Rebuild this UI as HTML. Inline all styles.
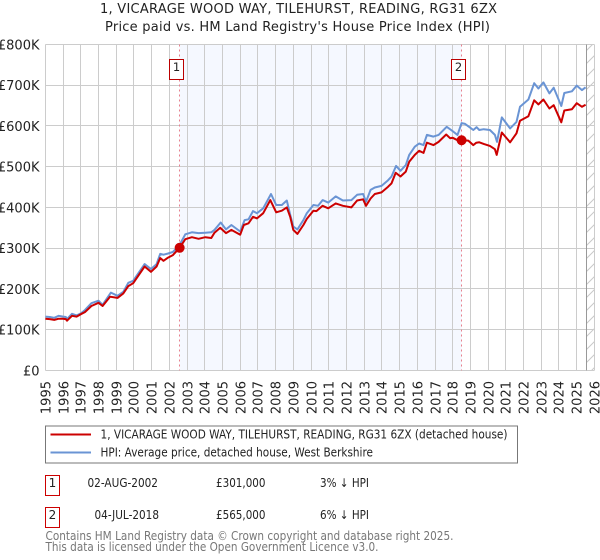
<!DOCTYPE html>
<html lang="en">
<head>
<meta charset="utf-8">
<title>1, VICARAGE WOOD WAY, TILEHURST, READING, RG31 6ZX</title>
<style>
html,body{margin:0;padding:0;background:#fff}
body{width:600px;height:560px;overflow:hidden;font-family:"DejaVu Sans","Liberation Sans",sans-serif}
svg{display:block}
text{font-family:"DejaVu Sans","Liberation Sans",sans-serif;fill:#222}
</style>
</head>
<body>
<svg id="chart" width="600" height="560" viewBox="0 0 600 560" xmlns="http://www.w3.org/2000/svg">
  <defs>
    <pattern id="hatch" patternUnits="userSpaceOnUse" width="13" height="13">
      <path d="M-2 15 L15 -2" stroke="#c8c8c8" stroke-width="1" fill="none"/>
    </pattern>
  </defs>
  <text x="298.5" y="13" text-anchor="middle" font-size="13" textLength="397" lengthAdjust="spacing">1, VICARAGE WOOD WAY, TILEHURST, READING, RG31 6ZX</text>
  <text x="297.5" y="31" text-anchor="middle" font-size="13" textLength="385" lengthAdjust="spacing">Price paid vs. HM Land Registry's House Price Index (HPI)</text>
  <g id="plot"></g>

  <g>
    <rect x="45.5" y="426" width="472" height="37" fill="#fff" stroke="#777" stroke-width="1"/>
    <line x1="50.5" x2="91" y1="434.5" y2="434.5" stroke="#cc0000" stroke-width="2"/>
    <text x="100.5" y="438.5" font-size="12" textLength="407" lengthAdjust="spacingAndGlyphs">1, VICARAGE WOOD WAY, TILEHURST, READING, RG31 6ZX (detached house)</text>
    <line x1="50.5" x2="91" y1="452.5" y2="452.5" stroke="#6a94d4" stroke-width="2"/>
    <text x="100.5" y="456.5" font-size="12" textLength="272.5" lengthAdjust="spacingAndGlyphs">HPI: Average price, detached house, West Berkshire</text>
  </g>

  <g>
    <rect x="45.5" y="475.5" width="14" height="20" fill="#fff" stroke="#cc0000" stroke-width="1"/>
    <text x="52.5" y="487" text-anchor="middle" font-size="12">1</text>
    <text x="87.5" y="487" font-size="12" textLength="70.5" lengthAdjust="spacingAndGlyphs">02-AUG-2002</text>
    <text x="216" y="487" font-size="12" textLength="49.5" lengthAdjust="spacingAndGlyphs">£301,000</text>
    <text x="320" y="487" font-size="12" textLength="49" lengthAdjust="spacingAndGlyphs">3% ↓ HPI</text>
  </g>
  <g>
    <rect x="45.5" y="507.5" width="14" height="20" fill="#fff" stroke="#cc0000" stroke-width="1"/>
    <text x="52.5" y="519" text-anchor="middle" font-size="12">2</text>
    <text x="94.5" y="519" font-size="12" textLength="64.5" lengthAdjust="spacingAndGlyphs">04-JUL-2018</text>
    <text x="216" y="519" font-size="12" textLength="49.5" lengthAdjust="spacingAndGlyphs">£565,000</text>
    <text x="320" y="519" font-size="12" textLength="49" lengthAdjust="spacingAndGlyphs">6% ↓ HPI</text>
  </g>
  <text x="45.5" y="540" font-size="12" style="fill:#777" textLength="408" lengthAdjust="spacingAndGlyphs">Contains HM Land Registry data © Crown copyright and database right 2025.</text>
  <text x="45.5" y="551" font-size="12" style="fill:#777" textLength="333" lengthAdjust="spacingAndGlyphs">This data is licensed under the Open Government Licence v3.0.</text>
</svg>
<script>
const yearTicks = [1995,1996,1997,1998,1999,2000,2001,2002,2003,2004,2005,2006,2007,2008,2009,2010,2011,2012,2013,2014,2015,2016,2017,2018,2019,2020,2021,2022,2023,2024,2025,2026];
const valueTicks = [0,100,200,300,400,500,600,700,800];
const valueTickLabels = ['£0','£100K','£200K','£300K','£400K','£500K','£600K','£700K','£800K'];

const priceYears = [1995,1995.25,1995.5,1995.75,1996,1996.15,1996.22,1996.5,1996.76,1997,1997.23,1997.6,1998,1998.23,1998.65,1999.07,1999.4,1999.68,1999.96,2000.6,2000.96,2001.28,2001.48,2001.67,2001.93,2002.2,2002.58,2002.9,2003.27,2003.65,2004.03,2004.37,2004.55,2004.87,2005.2,2005.5,2006,2006.2,2006.47,2006.72,2006.95,2007.3,2007.7,2008.03,2008.35,2008.63,2008.82,2009,2009.23,2009.57,2009.76,2010.13,2010.3,2010.65,2010.97,2011.39,2011.8,2012.28,2012.6,2012.94,2013.1,2013.36,2013.6,2013.98,2014.35,2014.54,2014.78,2015.05,2015.35,2015.54,2015.86,2016.1,2016.35,2016.54,2016.91,2017.2,2017.63,2017.85,2018,2018.27,2018.5,2018.88,2019.16,2019.33,2019.5,2019.75,2020.1,2020.38,2020.48,2020.77,2021.24,2021.6,2021.8,2022.27,2022.6,2022.84,2023.12,2023.46,2023.7,2024.13,2024.3,2024.73,2025,2025.3,2025.5];
const priceValues = [127,126,124,127,127,126,122,134,132,138,143,158,166,158,181,178,189,207,214,255,242,255,276,269,277,283,301,322,327,323,327,325,338,350,337,345,333,357,361,377,373,386,418,388,392,400,377,345,335,357,372,392,391,404,398,410,404,400,417,420,404,422,433,437,451,459,485,476,488,512,529,539,534,559,553,561,579,570,571,565,565,564,553,559,560,556,551,543,529,584,560,582,613,624,663,653,665,643,651,609,638,641,656,647,652];

const hpiYears = [1995,1995.25,1995.5,1995.75,1996,1996.15,1996.22,1996.5,1996.76,1997,1997.23,1997.6,1998,1998.23,1998.7,1999.07,1999.4,1999.68,1999.96,2000.6,2000.96,2001.28,2001.48,2001.67,2001.93,2002.2,2002.58,2002.9,2003.27,2003.65,2004.03,2004.37,2004.55,2004.9,2005.2,2005.5,2006,2006.25,2006.47,2006.72,2006.95,2007.3,2007.74,2008.03,2008.35,2008.63,2008.82,2009,2009.23,2009.57,2009.76,2010.13,2010.4,2010.65,2010.97,2011.39,2011.8,2012.28,2012.6,2012.94,2013.1,2013.36,2013.6,2013.98,2014.35,2014.54,2014.8,2015.05,2015.35,2015.54,2015.86,2016.1,2016.35,2016.54,2016.91,2017.2,2017.66,2017.95,2018.27,2018.5,2018.7,2019.16,2019.35,2019.5,2019.75,2020.1,2020.38,2020.5,2020.77,2021.24,2021.6,2021.8,2022.27,2022.6,2022.84,2023.12,2023.46,2023.7,2024.13,2024.3,2024.73,2025,2025.3,2025.5];
const hpiValues = [132,131,129,134,132,131,126,139,135,140,148,165,171,161,191,183,193,215,220,261,249,261,286,284,287,291,308,334,339,337,338,339,345,363,346,357,341,369,371,391,386,398,433,406,406,417,382,353,346,369,386,406,404,418,412,427,417,418,431,433,414,443,449,453,467,476,502,490,504,529,549,557,553,578,574,578,598,589,578,607,605,590,597,590,592,590,578,561,621,594,610,647,665,705,692,707,680,694,649,681,685,699,688,695];

const sales = [{label:'1',year:2002.58,value:301},{label:'2',year:2018.5,value:565}];
const dataEndYear = 2025.55;

function xScale(year){return 45.4+(year-1995)*17.71;}
function yScale(value){return 370.4-value*0.40738;}

const svgNS='http://www.w3.org/2000/svg';
const plot=document.getElementById('plot');
function mk(tag,attrs,parent){
  const el=document.createElementNS(svgNS,tag);
  for(const k in attrs){el.setAttribute(k,attrs[k]);}
  (parent||plot).appendChild(el);
  return el;
}
function snap(v){return Math.round(v-0.5)+0.5;}

const band=mk('rect',{x:xScale(sales[0].year),y:yScale(800),width:xScale(sales[1].year)-xScale(sales[0].year),height:yScale(0)-yScale(800),fill:'#f5f8ff'});



const hatch=mk('rect',{x:xScale(dataEndYear),y:yScale(800),width:xScale(2026)-xScale(dataEndYear),height:yScale(0)-yScale(800),fill:'url(#hatch)'});



valueTicks.forEach(function(v,i){
  const g=mk('line',{x1:xScale(1995),x2:xScale(2026),y1:snap(yScale(v)),y2:snap(yScale(v)),stroke:'#cccccc','stroke-width':1});
  
  
  const t=mk('text',{x:39.5,y:yScale(v)+5,'text-anchor':'end','font-size':13});
  
  
  t.textContent=valueTickLabels[i];
});
yearTicks.forEach(function(yr){
  const x=snap(xScale(yr));
  const g=mk('line',{x1:x,x2:x,y1:yScale(800),y2:yScale(0),stroke:'#cccccc','stroke-width':1});
  
  
  const t=mk('text',{x:0,y:0,'text-anchor':'end','font-size':13,transform:'translate('+(x+5)+',381) rotate(-90)'});
  
  
  t.textContent=String(yr);
});

const endLine=mk('line',{x1:snap(xScale(dataEndYear)),x2:snap(xScale(dataEndYear)),y1:yScale(800),y2:yScale(0),stroke:'#999999','stroke-width':1});



sales.forEach(function(s){
  const x=snap(xScale(s.year));
  const d=mk('line',{x1:x,x2:x,y1:yScale(800),y2:yScale(0),stroke:'#e8808c','stroke-width':1,'stroke-dasharray':'2 3'});
  
  
});

function linePath(xs,ys){
  return xs.map(function(yr,i){return (i?'L':'M')+xScale(yr).toFixed(1)+' '+yScale(ys[i]).toFixed(1);}).join(' ');
}
const hpiLine=mk('path',{d:linePath(hpiYears,hpiValues),fill:'none',stroke:'#6a94d4','stroke-width':2,'stroke-linejoin':'round'});


const priceLine=mk('path',{d:linePath(priceYears,priceValues),fill:'none',stroke:'#cc0000','stroke-width':2,'stroke-linejoin':'round'});



sales.forEach(function(s){
  const c=mk('circle',{cx:xScale(s.year),cy:yScale(s.value),r:5,fill:'#cc0000'});
  
  
  const x=snap(xScale(s.year));
  const b=mk('rect',{x:x-10,y:59.5,width:14,height:20,fill:'#fff',stroke:'#bb0000','stroke-width':1});
  
  
  const t=mk('text',{x:x-3,y:71,'text-anchor':'middle','font-size':11.5});
  
  
  t.textContent=s.label;
});
</script>
</body>
</html>
